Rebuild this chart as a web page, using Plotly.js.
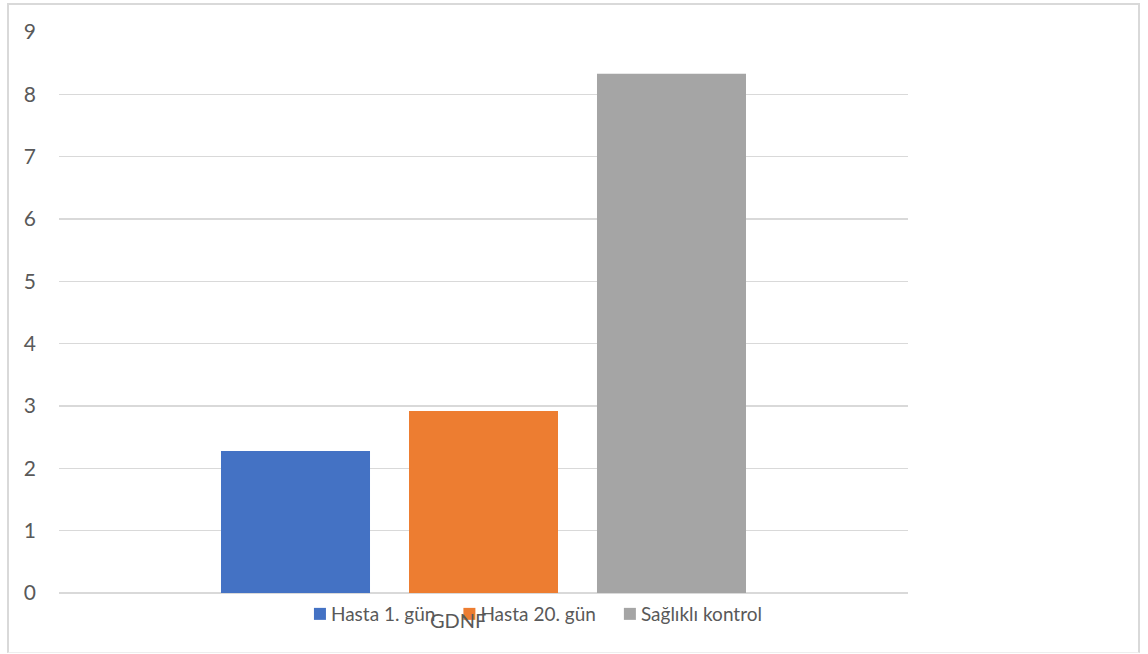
<!DOCTYPE html>
<html>
<head>
<meta charset="utf-8">
<script src="https://cdn.plot.ly/plotly-3.0.1.min.js"></script>
<style>
  html, body { margin: 0; padding: 0; background: #ffffff; }
  #wrap { position: relative; width: 1148px; height: 654px; overflow: hidden; }
  #frame { position: absolute; left: 7px; top: 3px; width: 1133px; height: 650px;
           border: 2px solid #d9d9d9; border-bottom: 1px solid #eeeeee; box-sizing: border-box; }
  #chart { position: absolute; left: 0; top: 0; width: 1148px; height: 654px; }
</style>
</head>
<body>
<div id="wrap">
  <div id="frame"></div>
  <div id="chart"></div>
</div>
<script>
// GDNF levels per group
const categories = ["GDNF"];
const seriesNames = ["Hasta 1. gün", "Hasta 20. gün", "Sağlıklı kontrol"];
const hasta1 = [2.28];
const hasta20 = [2.92];
const saglikli = [8.33];
const seriesValues = [hasta1, hasta20, saglikli];
const seriesColors = ["#4472C4", "#ED7D31", "#A5A5A5"];
const yTicks = [0, 1, 2, 3, 4, 5, 6, 7, 8, 9];

const FONT = "Lato, 'Open Sans', sans-serif";
const TEXT_COLOR = "#595959";

const traces = seriesNames.map((name, i) => ({
  type: "bar",
  name: name,
  x: categories,
  y: seriesValues[i],
  marker: { color: seriesColors[i], line: { width: 0 } },
  hoverinfo: "name+y"
}));

const layout = {
  width: 1148,
  height: 654,
  margin: { l: 59, r: 240, t: 32, b: 61, pad: 0 },
  paper_bgcolor: "rgba(0,0,0,0)",
  plot_bgcolor: "rgba(0,0,0,0)",
  barmode: "group",
  bargap: 0.3357,
  bargroupgap: 0.2074,
  font: { family: FONT, size: 20, color: TEXT_COLOR },
  showlegend: true,
  legend: {
    orientation: "h",
    x: 0.2732, xanchor: "left",
    y: -0.0036, yanchor: "top",
    font: { family: FONT, size: 19, color: TEXT_COLOR },
    bgcolor: "rgba(0,0,0,0)",
    traceorder: "normal"
  },
  xaxis: {
    type: "category",
    showgrid: false,
    zeroline: false,
    showline: false,
    ticks: "",
    showticklabels: false
  },
  yaxis: {
    range: [0, 9],
    tickvals: yTicks,
    ticktext: yTicks.map(String),
    showgrid: true,
    gridcolor: "#d9d9d9",
    gridwidth: 1.5,
    zeroline: true,
    zerolinecolor: "#d9d9d9",
    zerolinewidth: 1.5,
    showline: false,
    ticks: "",
    ticklabelstandoff: 22,
    tickfont: { family: FONT, size: 21, color: TEXT_COLOR }
  },
  // category label, set slightly left of the group centre
  annotations: categories.map(c => ({
    x: c, xref: "x",
    y: 0, yref: "y",
    xanchor: "center", yanchor: "top",
    xshift: -26, yshift: -13,
    showarrow: false,
    text: c,
    font: { family: FONT, size: 20, color: TEXT_COLOR }
  }))
};

Plotly.newPlot("chart", traces, layout, { displayModeBar: false, staticPlot: true }).then(gd => {
  // tighten the gap between each legend swatch and its label
  gd.querySelectorAll(".legend .legendpoints").forEach(g => {
    const t = g.getAttribute("transform") || "";
    g.setAttribute("transform", "translate(9,0) " + t);
  });
});
</script>
</body>
</html>
